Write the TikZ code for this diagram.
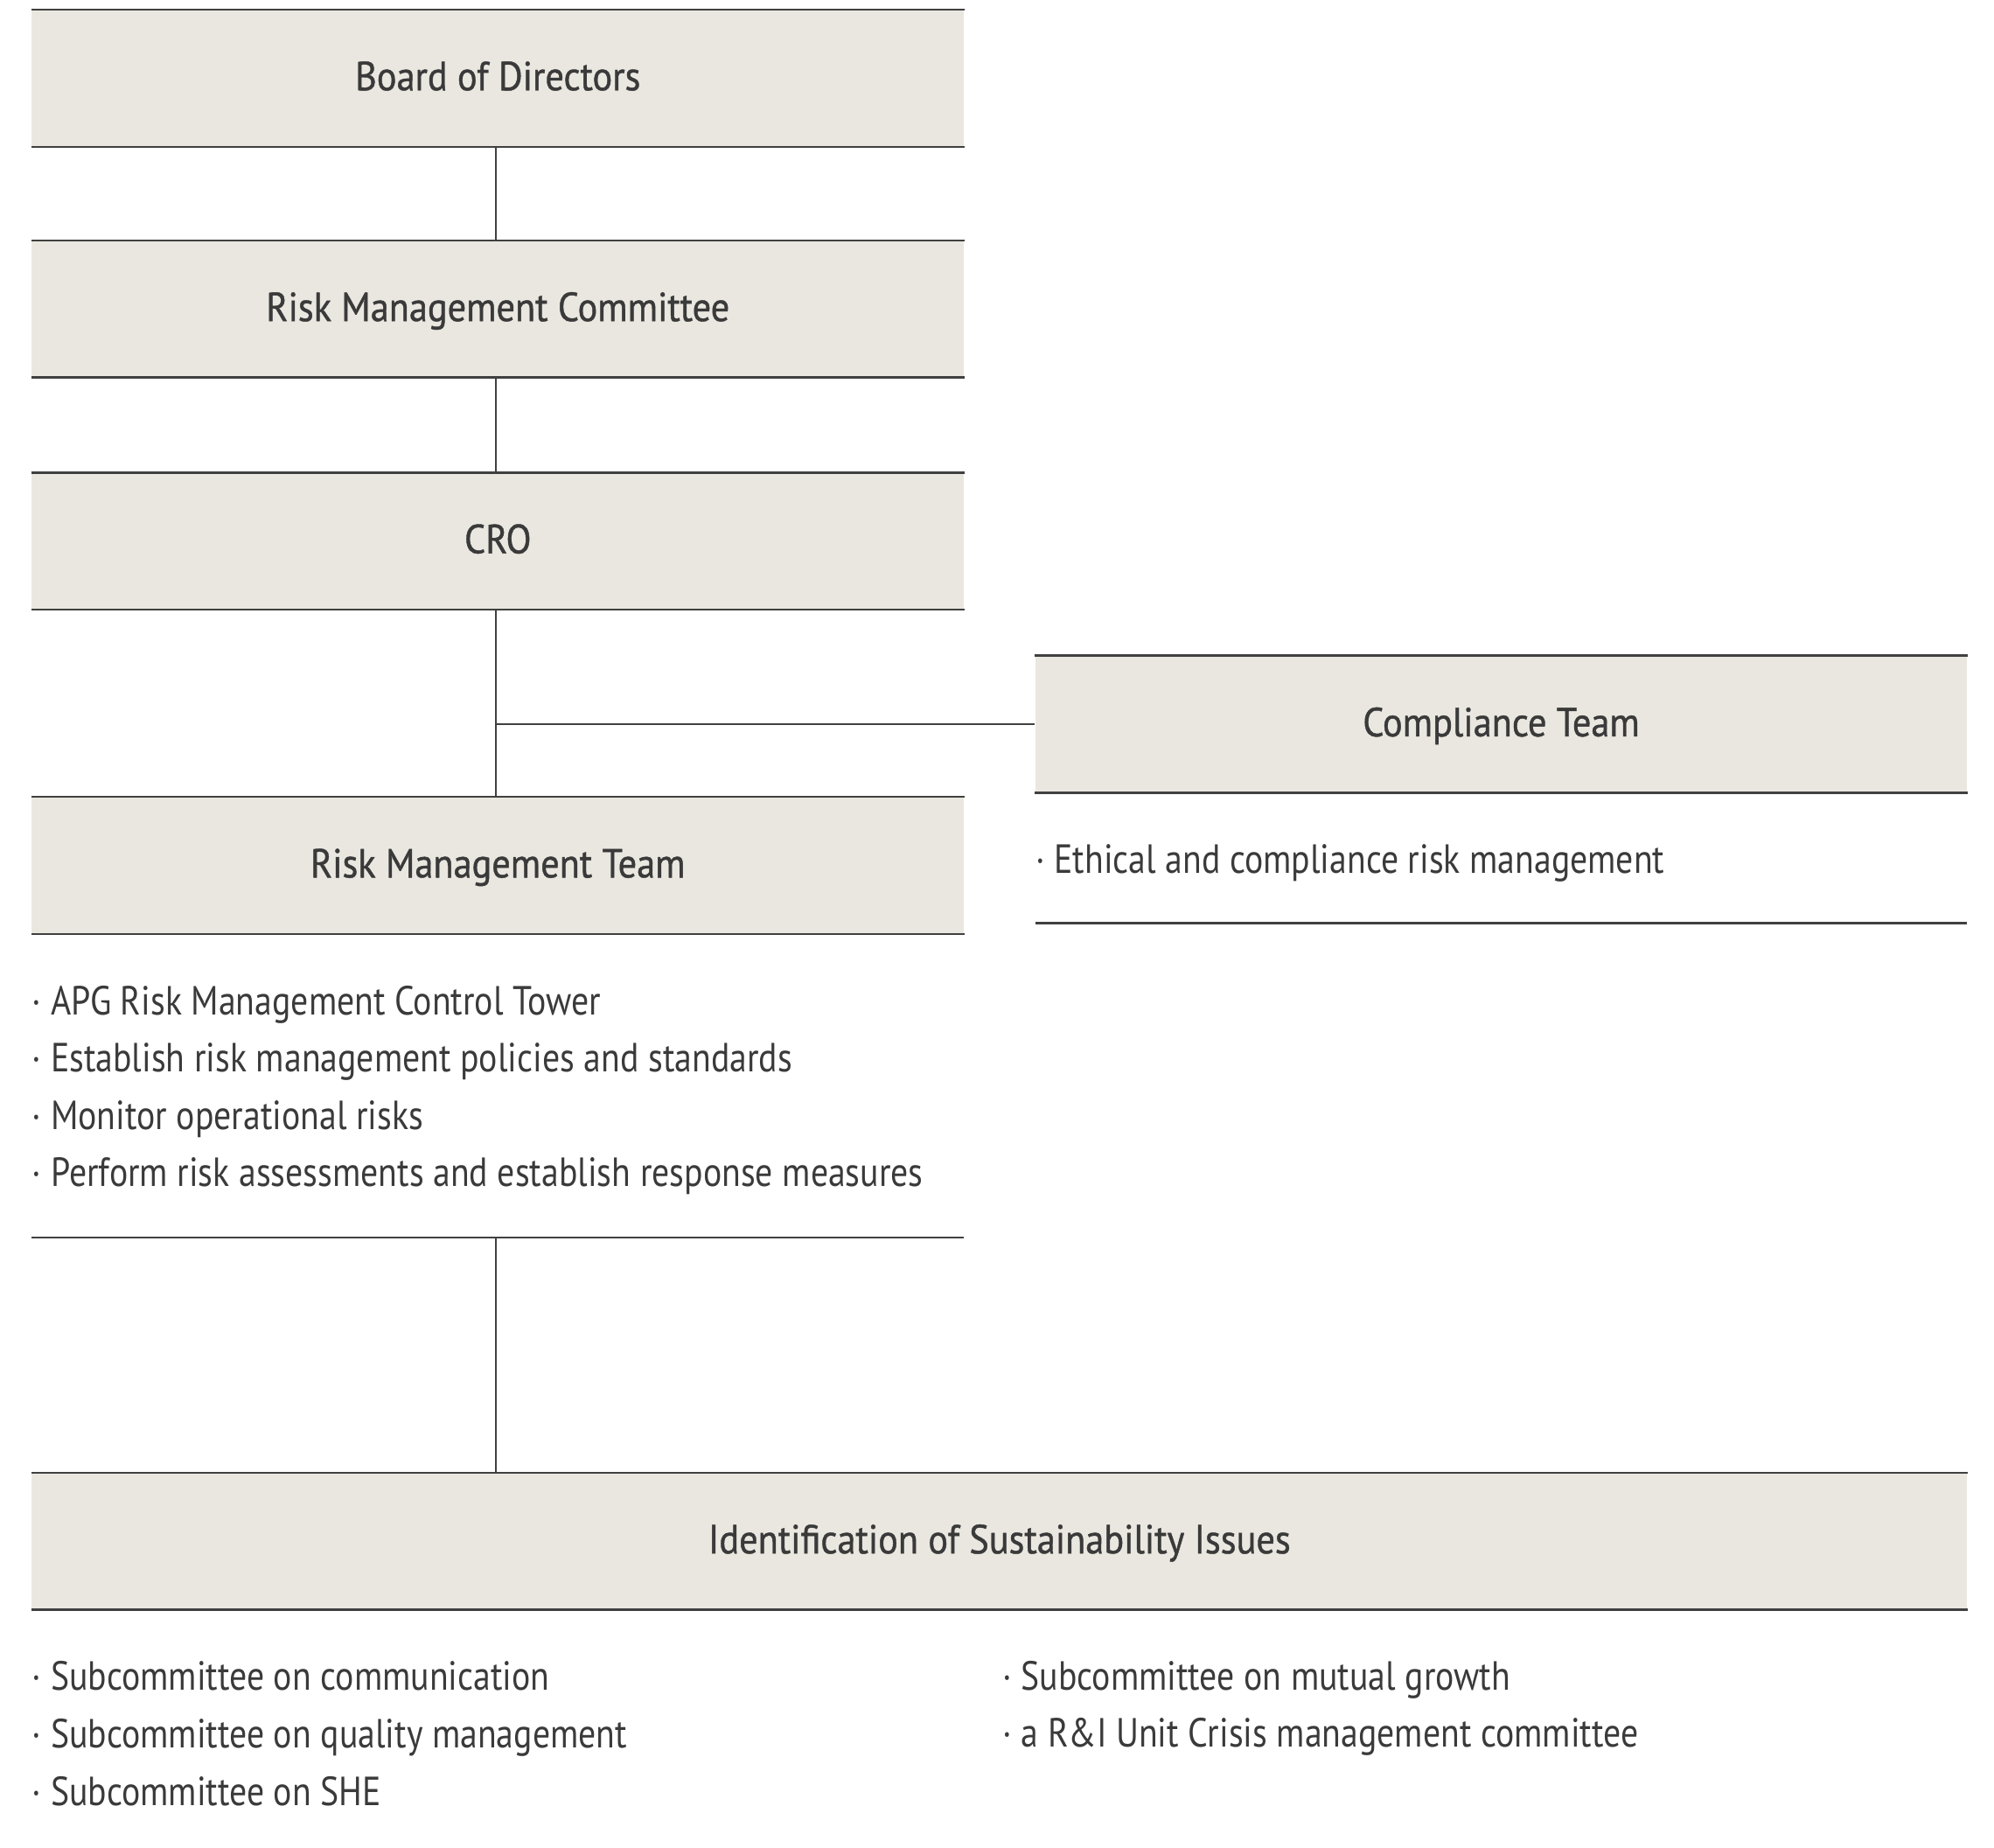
\documentclass[tikz,border=0pt]{standalone}
\usepackage{fontspec}
\setmainfont{PT Sans}[FakeStretch=0.855]
\newfontfamily\headfont{PT Sans}[FakeStretch=0.91, FakeBold=0.9]
\usetikzlibrary{positioning}
\definecolor{boxfill}{HTML}{EAE7E0}
\definecolor{rulegray}{HTML}{404040}
\definecolor{textgray}{HTML}{3A3A3A}
\tikzset{
  unitbox/.style={fill=boxfill, minimum width=366.5pt, minimum height=53.5pt, inner sep=0pt,
    text height=0.95em, text depth=0pt, font=\headfont\fontsize{16}{19}\selectfont, text=textgray},
  widebox/.style={unitbox, minimum width=761pt},
  rule/.style={rulegray, line width=0.9pt},
  link/.style={rulegray, line width=0.6pt},
  item/.style={anchor=base west, inner sep=0pt, font=\fontsize{16}{19}\selectfont, text=textgray}
}
\begin{document}
\begin{tikzpicture}[x=0.5pt,y=-0.5pt]
\useasboundingbox (0,0) rectangle (1568,1452.5);
% boxes
\node[unitbox] (board) at (391.5,61.5) {Board of Directors};
\node[unitbox] (rmc) at (391.5,243) {Risk Management Committee};
\node[unitbox] (cro) at (391.5,425.5) {CRO};
\node[unitbox] (comp) at (1180.5,569.5) {Compliance Team};
\node[unitbox] (rmt) at (391.5,680.5) {Risk Management Team};
\node[widebox] (issues) at (786,1212) {Identification of Sustainability Issues};
\foreach \n in {board,rmc,cro,comp,rmt,issues}
  \draw[rule] (\n.north west) -- (\n.north east) (\n.south west) -- (\n.south east);
% task lists
\node[item] (compitem) at (814,687) {· Ethical and compliance risk management};
\foreach \t [count=\i] in {APG Risk Management Control Tower,
  Establish risk management policies and standards, Monitor operational risks,
  Perform risk assessments and establish response measures}
  \node[item] (rmtitem\i) at (25,{798+45*(\i-1)}) {· \t};
\foreach \t [count=\i] in {Subcommittee on communication,
  Subcommittee on quality management, Subcommittee on SHE}
  \node[item] (subl\i) at (25,{1329+45.5*(\i-1)}) {· \t};
\foreach \t [count=\i] in {Subcommittee on mutual growth,
  a R\&I Unit Crisis management committee}
  \node[item] (subr\i) at (788,{1329+45*(\i-1)}) {· \t};
\coordinate (compfootl) at (814,726);
\coordinate (compfootr) at (1547,726);
\coordinate (rmtfootl) at (25,973);
\coordinate (rmtfootr) at (758,973);
\coordinate (rmtfoot) at (390,973);
\draw[rule] (compfootl) -- (compfootr);
\draw[rule] (rmtfootl) -- (rmtfootr);
% links
\draw[link] (board.south -| rmtfoot) -- (rmc.north -| rmtfoot);
\draw[link] (rmc.south -| rmtfoot) -- (cro.north -| rmtfoot);
\draw[link] (cro.south -| rmtfoot) -- (rmt.north -| rmtfoot);
\draw[link] (comp.west -| rmtfoot) -- (comp.west);
\draw[link] (rmtfoot) -- (issues.north -| rmtfoot);
\end{tikzpicture}
\end{document}
